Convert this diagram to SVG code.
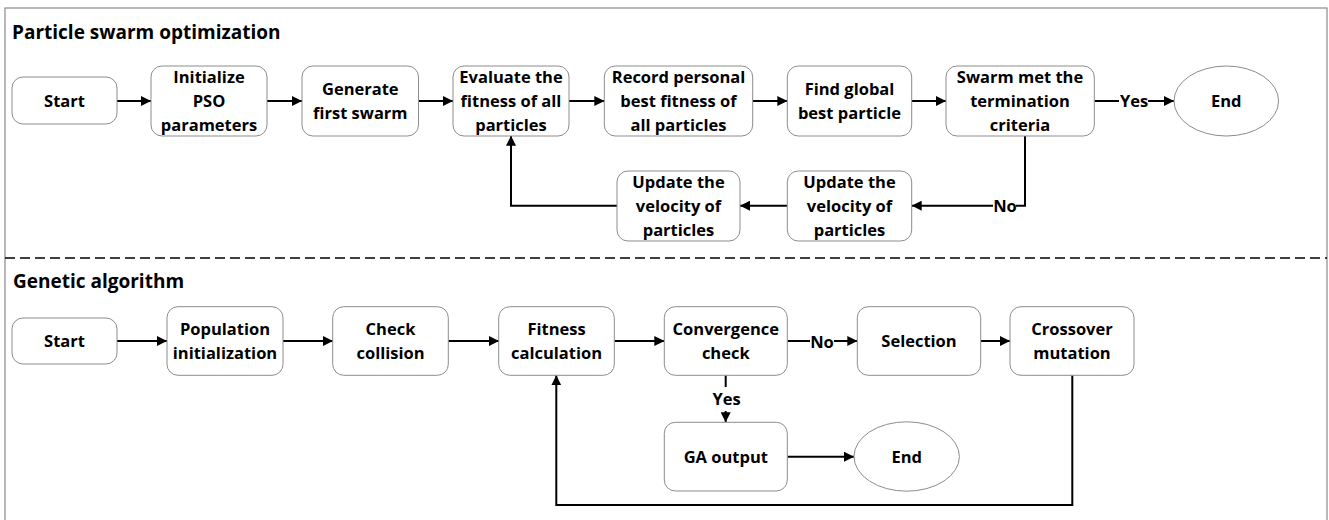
<svg xmlns="http://www.w3.org/2000/svg" width="1329" height="520" viewBox="0 0 1329 520">
<defs>
<marker id="ah" viewBox="0 0 10 10" refX="10" refY="5" markerWidth="10" markerHeight="10" markerUnits="userSpaceOnUse" orient="auto">
<path d="M0,0 L10,5 L0,10 Z" fill="#000"/>
</marker>
<style>
.frame{fill:none;stroke:#8a8a8a;stroke-width:1.2}
.sep{fill:none;stroke:#000;stroke-width:1.5;stroke-dasharray:10,5}
.node{fill:#fff;stroke:#8c8c8c;stroke-width:1}
.t{font-family:"Open Sans","Noto Sans","Liberation Sans",sans-serif;font-weight:bold;font-size:16.5px;fill:#000;text-anchor:middle}
.title{font-family:"Open Sans","Noto Sans","Liberation Sans",sans-serif;font-weight:bold;font-size:19px;fill:#000}
.c{fill:none;stroke:#000;stroke-width:2}
.lbl{font-family:"Open Sans","Noto Sans","Liberation Sans",sans-serif;font-weight:bold;font-size:16.5px;fill:#000;text-anchor:middle}
</style>
</defs>
<rect width="1329" height="520" fill="#fff"/>
<rect class="frame" x="5" y="8" width="1322" height="530"/>
<line class="sep" x1="5" y1="258" x2="1327" y2="258"/>
<text class="title" x="12" y="38.7">Particle swarm optimization</text>
<text class="title" x="13" y="288.3">Genetic algorithm</text>

<g id="connectors">
<path class="c" d="M117,101 H151" marker-end="url(#ah)"/>
<path class="c" d="M267,101 H302" marker-end="url(#ah)"/>
<path class="c" d="M418.5,101 H453" marker-end="url(#ah)"/>
<path class="c" d="M569,101 H604.3" marker-end="url(#ah)"/>
<path class="c" d="M752.7,101 H787.3" marker-end="url(#ah)"/>
<path class="c" d="M911.7,101 H946" marker-end="url(#ah)"/>
<path class="c" d="M1094.3,101 H1119"/>
<path class="c" d="M1148,101 H1174" marker-end="url(#ah)"/>
<text class="lbl" x="1134" y="107.3">Yes</text>
<path class="c" d="M1025,135.7 V205.7 H1016"/>
<path class="c" d="M993,205.7 H911.7" marker-end="url(#ah)"/>
<text class="lbl" x="1005" y="211.7">No</text>
<path class="c" d="M787,205.7 H740" marker-end="url(#ah)"/>
<path class="c" d="M617,205.7 H511 V135.7" marker-end="url(#ah)"/>

<path class="c" d="M117,341 H167" marker-end="url(#ah)"/>
<path class="c" d="M283,341 H333" marker-end="url(#ah)"/>
<path class="c" d="M448.3,341 H499" marker-end="url(#ah)"/>
<path class="c" d="M614.3,341 H664.3" marker-end="url(#ah)"/>
<path class="c" d="M787.3,341 H810"/>
<path class="c" d="M834,341 H857.3" marker-end="url(#ah)"/>
<text class="lbl" x="822" y="347.7">No</text>
<path class="c" d="M980.7,341 H1010" marker-end="url(#ah)"/>
<path class="c" d="M725.7,375.3 V387"/>
<text class="lbl" x="726.5" y="405">Yes</text>
<path class="c" d="M725.7,411 V422.3" marker-end="url(#ah)"/>
<path class="c" d="M787.3,456.7 H854" marker-end="url(#ah)"/>
<path class="c" d="M1072.3,375.3 V505 H556.3 V375.3" marker-end="url(#ah)"/>
</g>

<g id="pso-start"><rect class="node" x="12" y="77" width="105" height="47" rx="11"/><text class="t" x="64.5" y="107">Start</text></g>
<g id="pso-init"><rect class="node" x="151" y="66" width="116" height="70" rx="11"/><text class="t" x="209" y="83">Initialize</text><text class="t" x="209" y="107">PSO</text><text class="t" x="209" y="131">parameters</text></g>
<g id="pso-generate"><rect class="node" x="302" y="66" width="116.5" height="70" rx="11"/><text class="t" x="360.3" y="95">Generate</text><text class="t" x="360.3" y="119">first swarm</text></g>
<g id="pso-evaluate"><rect class="node" x="453" y="66" width="116" height="70" rx="11"/><text class="t" x="511" y="83">Evaluate the</text><text class="t" x="511" y="107">fitness of all</text><text class="t" x="511" y="131">particles</text></g>
<g id="pso-record"><rect class="node" x="604.3" y="66" width="148.4" height="70" rx="11"/><text class="t" x="678.5" y="83">Record personal</text><text class="t" x="678.5" y="107">best fitness of</text><text class="t" x="678.5" y="131">all particles</text></g>
<g id="pso-global"><rect class="node" x="787.3" y="66" width="124.4" height="70" rx="11"/><text class="t" x="849.5" y="95">Find global</text><text class="t" x="849.5" y="119">best particle</text></g>
<g id="pso-termination"><rect class="node" x="946" y="66" width="148.3" height="70" rx="11"/><text class="t" x="1020" y="83">Swarm met the</text><text class="t" x="1020" y="107">termination</text><text class="t" x="1020" y="131">criteria</text></g>
<g id="pso-end"><ellipse class="node" cx="1226.3" cy="101" rx="52.3" ry="35"/><text class="t" x="1226.3" y="107">End</text></g>
<g id="pso-update-right"><rect class="node" x="787.3" y="171" width="124.4" height="70" rx="11"/><text class="t" x="849.5" y="188">Update the</text><text class="t" x="849.5" y="212">velocity of</text><text class="t" x="849.5" y="236">particles</text></g>
<g id="pso-update-left"><rect class="node" x="617" y="171" width="123" height="70" rx="11"/><text class="t" x="678.5" y="188">Update the</text><text class="t" x="678.5" y="212">velocity of</text><text class="t" x="678.5" y="236">particles</text></g>

<g id="ga-start"><rect class="node" x="12" y="318" width="105" height="46" rx="11"/><text class="t" x="64.5" y="347">Start</text></g>
<g id="ga-population"><rect class="node" x="167" y="306.7" width="116" height="68.6" rx="11"/><text class="t" x="225" y="335">Population</text><text class="t" x="225" y="359">initialization</text></g>
<g id="ga-collision"><rect class="node" x="332.7" y="306.7" width="115.6" height="68.6" rx="11"/><text class="t" x="390.5" y="335">Check</text><text class="t" x="390.5" y="359">collision</text></g>
<g id="ga-fitness"><rect class="node" x="498.7" y="306.7" width="115.6" height="68.6" rx="11"/><text class="t" x="556.5" y="335">Fitness</text><text class="t" x="556.5" y="359">calculation</text></g>
<g id="ga-convergence"><rect class="node" x="664.3" y="306.7" width="123" height="68.6" rx="11"/><text class="t" x="725.8" y="335">Convergence</text><text class="t" x="725.8" y="359">check</text></g>
<g id="ga-selection"><rect class="node" x="857.3" y="306.7" width="123.4" height="68.6" rx="11"/><text class="t" x="919" y="347">Selection</text></g>
<g id="ga-crossover"><rect class="node" x="1010" y="306.7" width="124" height="68.6" rx="11"/><text class="t" x="1072" y="335">Crossover</text><text class="t" x="1072" y="359">mutation</text></g>
<g id="ga-output"><rect class="node" x="664.3" y="422.3" width="123" height="68.7" rx="11"/><text class="t" x="725.8" y="462.5">GA output</text></g>
<g id="ga-end"><ellipse class="node" cx="906.7" cy="456.5" rx="52.7" ry="34.7"/><text class="t" x="906.7" y="462.5">End</text></g>
</svg>
